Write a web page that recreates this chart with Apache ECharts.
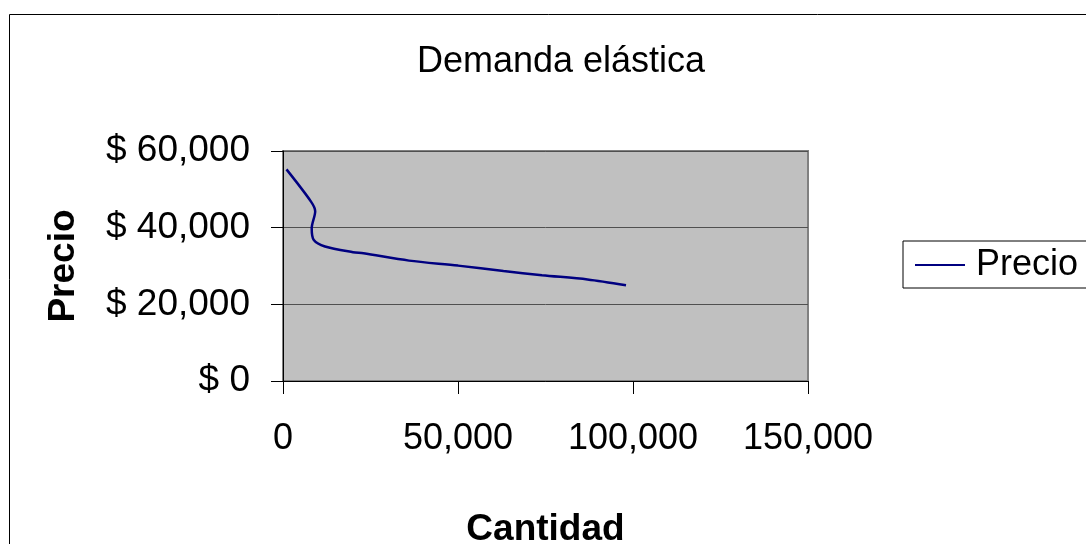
<!DOCTYPE html>
<html><head><meta charset="utf-8">
<script src="https://cdn.jsdelivr.net/npm/echarts@6/dist/echarts.min.js"></script>
<style>html,body{margin:0;padding:0;background:#fff}#c{width:1086px;height:544px}</style>
</head><body><div id="c"></div>
<script>
var cantidad = [1000, 8000, 9200, 8200, 8800, 12000, 20000, 23000, 36000, 50000, 63000, 74000, 87000, 98000];
var precio   = [55200, 46800, 44300, 39800, 36800, 35100, 33600, 33300, 31400, 30100, 28700, 27600, 26500, 25000];
var yTicks = [0, 20000, 40000, 60000];
var xTicks = [0, 50000, 100000, 150000];
var seriesName = 'Precio';

var data = cantidad.map(function(c, i){ return [c, precio[i]]; });
function fmt(v){ return String(v).replace(/\B(?=(\d{3})+(?!\d))/g, ','); }
var F = 'Liberation Sans, Arial, sans-serif';
var chart = echarts.init(document.getElementById('c'));
chart.setOption({
  animation: false,
  backgroundColor: '#fff',
  title: { text: 'Demanda elástica', left: 556, top: 39, textAlign: 'center',
    textStyle: { fontFamily: F, fontSize: 36, fontWeight: 'normal', color: '#000' } },
  graphic: [{ type: 'rect', shape: { x: 9.5, y: 14.5, width: 1200, height: 700 },
    style: { fill: 'none', stroke: '#000', lineWidth: 1 }, z: -10 }],
  legend: { data: [seriesName], left: 903, top: 241, orient: 'vertical',
    borderColor: '#000', borderWidth: 1, padding: [6, 30, 5, 12],
    itemWidth: 50, itemHeight: 2, itemGap: 0, icon: 'rect',
    textStyle: { fontFamily: F, fontSize: 36, color: '#000', padding: [0, 0, 0, 6] } },
  grid: { left: 283, top: 151, width: 525, height: 230, show: true, containLabel: false,
    outerBoundsMode: 'none',
    backgroundColor: '#c0c0c0', borderColor: '#808080', borderWidth: 2 },
  xAxis: { type: 'value', min: 0, max: 150000, interval: 50000,
    name: 'Cantidad', nameLocation: 'middle', nameGap: 130,
    nameTextStyle: { fontFamily: F, fontSize: 37, fontWeight: 'bold', color: '#000' },
    axisLine: { show: true, lineStyle: { color: '#000', width: 1 } },
    axisTick: { show: true, length: 13, lineStyle: { color: '#000' } },
    splitLine: { show: false },
    axisLabel: { fontFamily: F, fontSize: 36, color: '#000', margin: 40, formatter: function(v){ return fmt(v); } } },
  yAxis: { type: 'value', min: 0, max: 60000, interval: 20000,
    name: 'Precio', nameLocation: 'middle', nameGap: 201, nameRotate: 90,
    nameTextStyle: { fontFamily: F, fontSize: 37, fontWeight: 'bold', color: '#000' },
    axisLine: { show: true, lineStyle: { color: '#000', width: 1 } },
    axisTick: { show: true, length: 12, lineStyle: { color: '#000' } },
    splitLine: { show: true, lineStyle: { color: '#505050', width: 1 } },
    axisLabel: { fontFamily: F, fontSize: 37, color: '#000', margin: 33, formatter: function(v){ return '$ ' + fmt(v); } } },
  series: [{ name: seriesName, type: 'line', data: data, smooth: 0.3, showSymbol: false,
    lineStyle: { color: '#000080', width: 2.5 }, itemStyle: { color: '#000080' } }]
});
</script></body></html>
